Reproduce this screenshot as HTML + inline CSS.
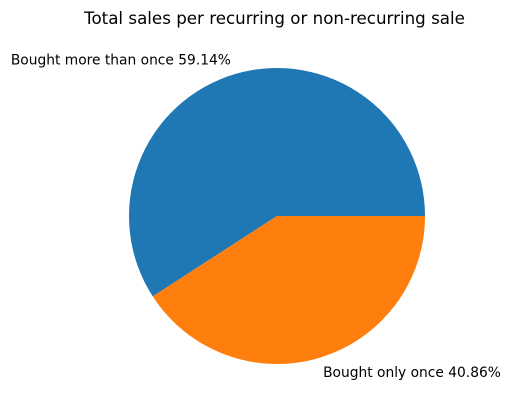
<!DOCTYPE html>
<html><head><meta charset="utf-8"><style>
body{margin:0;background:#fff;}
svg{display:block;font-family:"DejaVu Sans","Liberation Sans",sans-serif;}
</style></head><body>
<svg id="chart" width="511" height="411" viewBox="0 0 511 411">
<text x="274.5" y="24" text-anchor="middle" font-size="16.7" fill="#000">Total sales per recurring or non-recurring sale</text>
<g id="slices"></g>
</svg>
<script>
const categories = ["Bought more than once", "Bought only once"];
const values = [59.14, 40.86];
const colors = ["#1f77b4", "#ff7f0e"];
const cx = 277, cy = 216, r = 148;
const ns = "http://www.w3.org/2000/svg";
const g = document.getElementById("slices");
const total = values.reduce((a,b)=>a+b,0);
let start = 0;
function pt(deg, rad){const a=deg*Math.PI/180;return [cx+rad*Math.cos(a), cy-rad*Math.sin(a)];}
values.forEach((v,i)=>{
  const sweep = v/total*360;
  const end = start+sweep;
  const [x1,y1]=pt(start,r),[x2,y2]=pt(end,r);
  const large = sweep>180?1:0;
  const p=document.createElementNS(ns,"path");
  p.setAttribute("d",`M${cx},${cy} L${x1},${y1} A${r},${r} 0 ${large} 0 ${x2},${y2} Z`);
  p.setAttribute("fill",colors[i]);
  
  
  g.appendChild(p);
  const mid=(start+end)/2;
  const [lx,ly]=pt(mid,r*1.1);
  const t=document.createElementNS(ns,"text");
  t.setAttribute("x",lx);
  t.setAttribute("y",ly+4.8);
  t.setAttribute("font-size","13.8");
  t.setAttribute("text-anchor",Math.cos(mid*Math.PI/180)<0?"end":"start");
  t.textContent=categories[i]+" "+v.toFixed(2)+"%";
  
  
  g.appendChild(t);
  start=end;
});
</script>
</body></html>
